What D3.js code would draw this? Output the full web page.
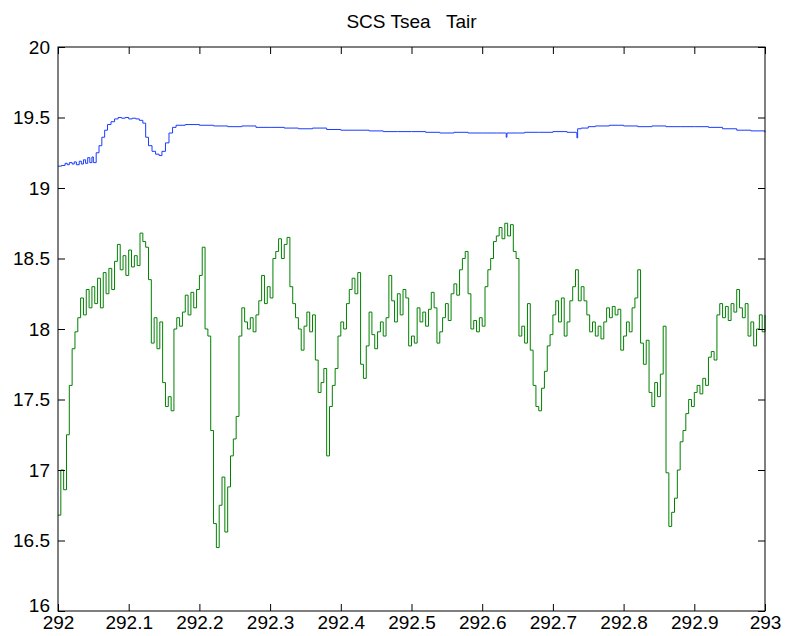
<!DOCTYPE html>
<html>
	<head>
		<meta http-equiv='Content-Type' content='text/html;charset=utf-8'/>
		<title>SCS Tsea Tair</title>
		<script src='https://d3js.org/d3.v7.min.js'></script>
		<style>
			body { margin: 0; background: #ffffff; }
			text { font-family: 'Liberation Sans', Arial, Helvetica, sans-serif; }
		</style>
	</head>

	<body>
		<script>
		'use strict'

		// tick values
		const xTicks = [292, 292.1, 292.2, 292.3, 292.4, 292.5, 292.6, 292.7, 292.8, 292.9, 293]
		const yTicks = [16, 16.5, 17, 17.5, 18, 18.5, 19, 19.5, 20]

		// sea temperature (blue)
		const tseaTime = [
			292.000, 292.005, 292.010, 292.013, 292.016, 292.020, 292.023, 292.026, 292.030, 292.033,
			292.036, 292.039, 292.042, 292.045, 292.048, 292.050, 292.054, 292.058, 292.062, 292.066,
			292.070, 292.075, 292.080, 292.085, 292.090, 292.095, 292.100, 292.105, 292.110, 292.115,
			292.120, 292.124, 292.128, 292.133, 292.138, 292.143, 292.147, 292.152, 292.157, 292.162,
			292.167, 292.180, 292.200, 292.220, 292.240, 292.260, 292.280, 292.300, 292.320, 292.340,
			292.360, 292.380, 292.400, 292.420, 292.440, 292.460, 292.480, 292.500, 292.520, 292.540,
			292.560, 292.580, 292.600, 292.620, 292.633, 292.634, 292.635, 292.650, 292.660, 292.680,
			292.700, 292.720, 292.733, 292.734, 292.735, 292.740, 292.750, 292.760, 292.780, 292.800,
			292.820, 292.840, 292.860, 292.880, 292.900, 292.920, 292.940, 292.960, 292.980, 293.000
		]
		const tseaVal = [
			19.155, 19.16, 19.175, 19.165, 19.18, 19.17, 19.185, 19.165, 19.19, 19.17,
			19.2, 19.175, 19.215, 19.18, 19.22, 19.18, 19.25, 19.3, 19.36, 19.41,
			19.45, 19.47, 19.49, 19.5, 19.495, 19.5, 19.49, 19.495, 19.49, 19.48,
			19.46, 19.36, 19.3, 19.26, 19.24, 19.23, 19.26, 19.32, 19.39, 19.43,
			19.445, 19.45, 19.445, 19.44, 19.435, 19.44, 19.43, 19.43, 19.425, 19.42,
			19.425, 19.415, 19.41, 19.41, 19.405, 19.4, 19.4, 19.4, 19.395, 19.39,
			19.395, 19.39, 19.39, 19.39, 19.39, 19.36, 19.39, 19.39, 19.395, 19.395,
			19.4, 19.395, 19.39, 19.355, 19.42, 19.425, 19.435, 19.44, 19.445, 19.44,
			19.435, 19.44, 19.435, 19.435, 19.435, 19.43, 19.42, 19.41, 19.405, 19.395
		]

		// air temperature (green), one reading every 0.004 day from 292
		const tairStart = 292
		const tairStep = 0.004
		const tairVal = [
			16.68, 17.0, 16.86, 17.25, 17.6, 17.86, 17.98, 18.08, 18.22, 18.1,
			18.28, 18.15, 18.3, 18.18, 18.36, 18.15, 18.4, 18.25, 18.43, 18.28,
			18.48, 18.6, 18.42, 18.52, 18.38, 18.56, 18.44, 18.52, 18.45, 18.68,
			18.62, 18.58, 18.35, 17.9, 18.08, 17.86, 18.05, 17.62, 17.45, 17.52,
			17.42, 18.0, 18.08, 18.02, 18.12, 18.24, 18.1, 18.26, 18.15, 18.28,
			18.38, 18.58, 18.0, 17.95, 17.28, 16.62, 16.45, 16.75, 16.95, 16.56,
			16.88, 17.1, 17.22, 17.38, 17.95, 18.15, 18.05, 18.0, 18.08, 17.98,
			18.1, 18.2, 18.38, 18.18, 18.3, 18.22, 18.5, 18.55, 18.64, 18.5,
			18.6, 18.65, 18.3, 18.18, 18.08, 18.0, 17.85, 18.02, 18.12, 17.98,
			18.1, 17.78, 17.55, 17.62, 17.72, 17.1, 17.45, 17.6, 17.72, 17.95,
			18.05, 18.0, 18.18, 18.28, 18.36, 18.25, 18.4, 17.75, 17.65, 17.88,
			18.12, 17.96, 17.86, 17.98, 18.05, 17.95, 18.08, 18.38, 18.2, 18.05,
			18.25, 18.1, 18.28, 18.22, 17.88, 17.95, 17.9, 18.15, 18.05, 18.12,
			18.02, 18.14, 18.26, 18.15, 17.9, 17.98, 18.08, 18.18, 18.06, 18.25,
			18.32, 18.24, 18.42, 18.5, 18.55, 18.25, 18.0, 18.06, 17.98, 18.08,
			18.02, 18.3, 18.42, 18.5, 18.62, 18.66, 18.72, 18.64, 18.75, 18.66,
			18.74, 18.55, 18.5, 17.95, 18.02, 17.9, 18.18, 17.85, 17.6, 17.45,
			17.42, 17.58, 17.7, 17.88, 17.96, 18.1, 18.2, 18.05, 18.22, 17.95,
			18.05, 18.2, 18.3, 18.42, 18.2, 18.3, 18.2, 18.1, 17.98, 18.05,
			17.95, 18.02, 17.93, 18.05, 18.15, 18.08, 18.16, 18.1, 18.14, 17.85,
			17.95, 18.05, 17.98, 18.15, 18.22, 18.42, 17.9, 17.75, 17.92, 17.55,
			17.45, 17.62, 17.52, 17.68, 18.02, 16.98, 16.6, 16.7, 16.8, 17.0,
			17.2, 17.28, 17.4, 17.5, 17.45, 17.55, 17.6, 17.54, 17.65, 17.6,
			17.8, 17.84, 17.78, 18.1, 18.18, 18.08, 18.16, 18.06, 18.18, 18.12,
			18.28, 18.15, 18.08, 18.18, 17.95, 18.05, 17.88, 18.0, 18.1, 17.98,
			18.1
		]

		const width = 786
		const height = 636
		const plot = {left: 58, right: 765, top: 47, bottom: 611}
		const tickLen = 7

		const svg = d3.select('body').append('svg')
			.attr('width', width)
			.attr('height', height)

		svg.append('rect')
			.attr('width', '100%')
			.attr('height', '100%')
			.attr('fill', '#ffffff')

		const x = d3.scaleLinear().domain([292, 293]).range([plot.left, plot.right])
		const y = d3.scaleLinear().domain([16, 20]).range([plot.bottom, plot.top])

		const tsea = tseaTime.map(function(t, i) { return {t: t, v: tseaVal[i]} })
		const tair = tairVal.map(function(v, i) { return {t: tairStart + i * tairStep, v: v} })

		drawSeries(tsea, '#1a3cff')
		drawSeries(tair, '#008000')
		drawAxes()

		svg.append('text')
			.attr('x', (plot.left + plot.right) / 2)
			.attr('y', 28)
			.attr('text-anchor', 'middle')
			.attr('font-size', 19)
			.attr('fill', '#000000')
			.attr('xml:space', 'preserve')
			.style('white-space', 'pre')
			.text('SCS Tsea   Tair')

		/**
		 * drawSeries
		 * Stair-step line, like the logged data.
		 * @param {Array} points {t, v}
		 * @param {String} colour
		 */
		function drawSeries(points, colour)
		{
			const line = d3.line()
				.x(function(d) { return x(d.t) })
				.y(function(d) { return y(d.v) })
				.curve(d3.curveStepAfter)

			svg.append('path')
				.datum(points)
				.attr('fill', 'none')
				.attr('stroke', colour)
				.attr('stroke-width', 1)
				.attr('d', line)
		}

		/**
		 * drawAxes
		 * Box with ticks pointing inwards on all four sides.
		 */
		function drawAxes()
		{
			const fmt = d3.format('')

			const bottom = svg.append('g')
				.attr('transform', 'translate(0,' + plot.bottom + ')')
				.call(d3.axisBottom(x).tickValues(xTicks).tickFormat(fmt)
					.tickSizeInner(-tickLen).tickSizeOuter(0).tickPadding(5))
			bottom.selectAll('text').attr('font-size', 19).attr('fill', '#000000')

			svg.append('g')
				.attr('transform', 'translate(0,' + plot.top + ')')
				.call(d3.axisTop(x).tickValues(xTicks).tickFormat('')
					.tickSizeInner(-tickLen).tickSizeOuter(0))

			const left = svg.append('g')
				.attr('transform', 'translate(' + plot.left + ',0)')
				.call(d3.axisLeft(y).tickValues(yTicks).tickFormat(fmt)
					.tickSizeInner(-tickLen).tickSizeOuter(0).tickPadding(8))
			left.selectAll('text').attr('font-size', 19).attr('fill', '#000000')
				.attr('dy', function(d) { return d === 16 ? '0.05em' : '0.32em' })

			svg.append('g')
				.attr('transform', 'translate(' + plot.right + ',0)')
				.call(d3.axisRight(y).tickValues(yTicks).tickFormat('')
					.tickSizeInner(-tickLen).tickSizeOuter(0))

			svg.selectAll('.domain').remove()
			svg.selectAll('.tick line').attr('stroke', '#000000')

			svg.append('rect')
				.attr('x', plot.left)
				.attr('y', plot.top)
				.attr('width', plot.right - plot.left)
				.attr('height', plot.bottom - plot.top)
				.attr('fill', 'none')
				.attr('stroke', '#000000')
				.attr('stroke-width', 1)
		}
		</script>
	</body>
</html>
